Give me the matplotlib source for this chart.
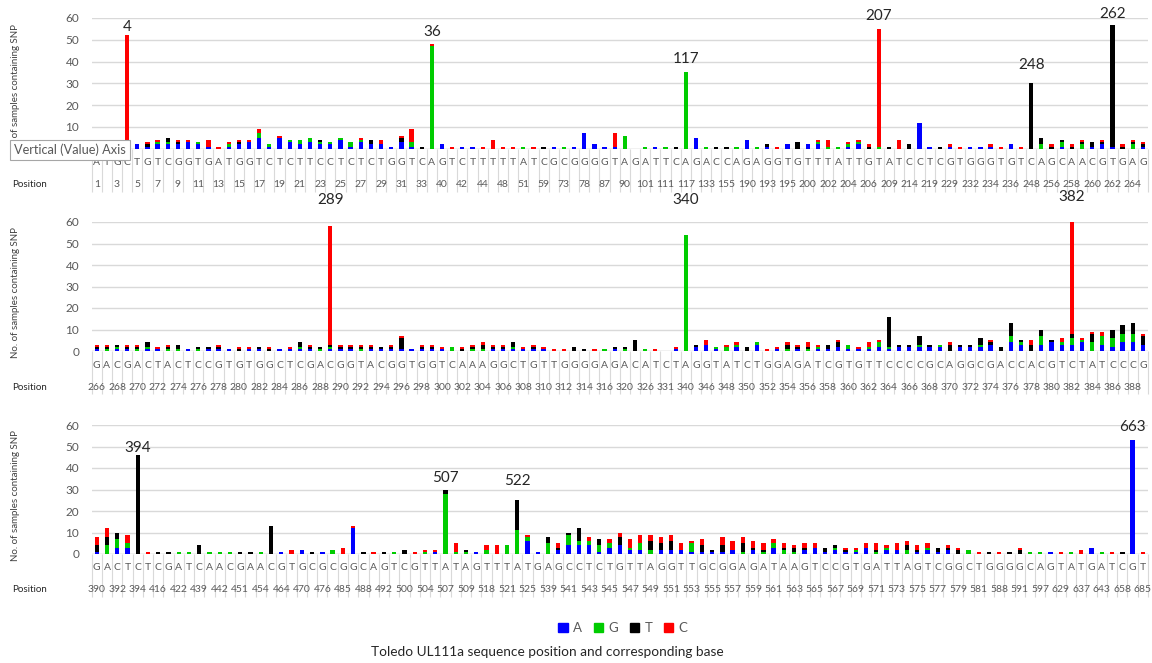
import numpy as np
import matplotlib.pyplot as plt
from matplotlib.patches import Patch

plt.rcParams['font.family'] = ['Lato', 'DejaVu Sans']

# ---- panel 1 ----
pos1 = [1, 2, 3, 4, 5, 6, 7, 8, 9, 10, 11, 12, 13, 14, 15, 16, 17, 18, 19, 20,
        21, 22, 23, 24, 25, 26, 27, 28, 29, 30, 31, 32, 33, 36, 40, 41, 42, 43, 44, 45,
        48, 49, 51, 52, 59, 60, 73, 74, 78, 79, 87, 88, 90, 91, 101, 102, 111, 112, 117, 118,
        133, 134, 155, 156, 190, 191, 193, 194, 195, 196, 200, 201, 202, 203, 204, 205, 206, 207, 209, 210,
        214, 215, 219, 220, 229, 230, 232, 233, 234, 235, 236, 237, 248, 249, 256, 257, 258, 259, 260, 261,
        262, 263, 264, 265]
bases1 = list("ATGCTGTCGGTGATGGTCTCTTCCTCTCT"
              "GGTCAGTCTTTTTATCGCGGGGTAGATTCAGACCAGAG"
              "GTGTTTATTGTATCCTCGTGGGTGTCAGCAACGTGAG")
a1 = [1, 1, 1, 0, 2, 1, 2, 2, 2, 3, 2, 1, 0, 1, 2, 3, 5, 1, 5, 3,
      2, 3, 2, 2, 4, 1, 3, 2, 2, 1, 3, 1, 0, 0, 2, 0, 1, 1, 0, 0,
      0, 0, 0, 0, 0, 1, 0, 1, 7, 2, 1, 1, 0, 0, 0, 1, 0, 0, 0, 5,
      0, 0, 0, 0, 4, 0, 1, 0, 2, 0, 2, 2, 0, 0, 1, 2, 0, 0, 0, 0,
      0, 12, 1, 0, 1, 0, 1, 1, 1, 0, 2, 0, 0, 0, 0, 1, 0, 0, 1, 2,
      1, 0, 0, 1]
g1 = [0, 0, 0, 0, 0, 0, 1, 1, 0, 0, 1, 0, 0, 1, 0, 0, 2, 1, 0, 1,
      2, 2, 1, 1, 1, 2, 1, 0, 0, 0, 0, 2, 0, 47, 0, 0, 0, 0, 0, 0,
      0, 0, 1, 0, 0, 0, 1, 0, 0, 0, 0, 0, 6, 0, 1, 0, 1, 0, 35, 0,
      1, 0, 0, 1, 0, 1, 0, 0, 0, 0, 0, 1, 1, 1, 1, 1, 0, 1, 0, 0,
      0, 0, 0, 0, 0, 0, 0, 0, 0, 0, 0, 0, 0, 2, 0, 2, 0, 2, 0, 0,
      0, 0, 2, 0]
t1 = [0, 0, 0, 0, 0, 1, 0, 2, 1, 0, 0, 0, 0, 0, 1, 0, 0, 0, 0, 0,
      0, 0, 1, 0, 0, 0, 0, 2, 0, 0, 2, 0, 1, 0, 0, 0, 0, 0, 0, 0,
      0, 0, 0, 0, 1, 0, 0, 0, 0, 0, 0, 0, 0, 0, 0, 0, 0, 1, 0, 0,
      0, 1, 1, 0, 0, 0, 1, 0, 0, 3, 0, 0, 0, 0, 0, 0, 1, 0, 1, 0,
      2, 0, 0, 1, 0, 0, 0, 0, 0, 0, 0, 0, 30, 3, 1, 1, 1, 1, 2, 1,
      56, 1, 1, 1]
c1 = [0, 0, 1, 52, 0, 1, 1, 0, 1, 1, 0, 3, 1, 1, 1, 1, 2, 0, 1, 0,
      0, 0, 0, 0, 0, 0, 1, 0, 2, 0, 1, 6, 0, 1, 0, 1, 0, 0, 1, 4,
      1, 1, 0, 1, 0, 0, 0, 0, 0, 0, 0, 6, 0, 0, 0, 0, 0, 0, 0, 0,
      0, 0, 0, 0, 0, 0, 0, 1, 0, 0, 0, 1, 3, 0, 1, 1, 1, 54, 0, 4,
      0, 0, 0, 0, 1, 1, 0, 0, 1, 1, 0, 1, 0, 0, 1, 0, 1, 1, 0, 1,
      0, 1, 1, 1]
marks1 = [4, 36, 117, 207, 248, 262]
mark_y1 = [56, 53.4, 41, 60.8, 38.2, 61.7]

# ---- panel 2 ----
pos2 = [266, 267, 268, 269, 270, 271, 272, 273, 274, 275, 276, 277, 278, 279, 280, 281, 282, 283, 284, 285,
        286, 287, 288, 289, 290, 291, 292, 293, 294, 295, 296, 297, 298, 299, 300, 301, 302, 303, 304, 305,
        306, 307, 308, 309, 310, 311, 312, 313, 314, 315, 316, 318, 320, 322, 326, 328, 331, 335, 340, 342,
        346, 347, 348, 349, 350, 351, 352, 353, 354, 355, 356, 357, 358, 359, 360, 361, 362, 363, 364, 365,
        366, 367, 368, 369, 370, 371, 372, 373, 374, 375, 376, 377, 378, 379, 380, 381, 382, 383, 384, 385,
        386, 387, 388, 389]
bases2 = list("GACGACTACTCCGTGTGGCTCGACGGTAC"
              "GGTGGTCAAAGGCTGTTGGGGAGACATCTAGGTATCTG"
              "GAGATCGTGTTCCCCGCAGGCGACCACGTCTATCCCG")
a2 = [1, 0, 1, 1, 0, 1, 1, 0, 0, 1, 0, 1, 1, 1, 0, 1, 1, 0, 1, 1,
      1, 1, 0, 1, 1, 1, 0, 1, 1, 1, 1, 1, 1, 1, 1, 0, 0, 0, 0, 1,
      1, 1, 1, 1, 1, 0, 0, 0, 0, 0, 0, 1, 0, 0, 0, 0, 0, 1, 0, 2,
      3, 1, 0, 2, 0, 3, 0, 1, 0, 1, 0, 1, 1, 2, 1, 1, 1, 2, 1, 2,
      2, 2, 2, 2, 0, 2, 2, 2, 3, 0, 4, 3, 0, 3, 4, 3, 3, 4, 0, 3,
      2, 4, 4, 3]
g2 = [0, 1, 1, 0, 1, 1, 0, 1, 1, 0, 1, 0, 0, 0, 0, 0, 0, 0, 0, 0,
      1, 0, 1, 1, 0, 0, 1, 0, 0, 0, 0, 0, 0, 0, 0, 2, 0, 1, 1, 0,
      0, 1, 0, 0, 0, 0, 0, 0, 0, 0, 1, 0, 1, 0, 1, 0, 0, 0, 54, 0,
      0, 1, 2, 1, 0, 1, 0, 0, 1, 0, 1, 1, 0, 0, 2, 0, 1, 2, 1, 0,
      0, 1, 0, 1, 0, 0, 0, 1, 0, 0, 3, 1, 0, 4, 0, 1, 3, 1, 4, 4,
      4, 4, 4, 0]
t2 = [1, 1, 1, 1, 1, 2, 0, 1, 2, 0, 1, 1, 1, 0, 1, 0, 1, 1, 0, 0,
      2, 1, 1, 1, 1, 1, 1, 1, 1, 1, 5, 0, 1, 1, 0, 0, 1, 1, 2, 1,
      1, 2, 0, 1, 0, 0, 0, 2, 1, 0, 0, 1, 1, 5, 0, 0, 0, 0, 0, 1,
      0, 0, 0, 0, 2, 0, 0, 0, 2, 1, 1, 0, 2, 2, 0, 0, 0, 0, 14, 1,
      1, 4, 1, 0, 3, 1, 1, 3, 1, 2, 6, 1, 3, 3, 1, 0, 2, 0, 4, 0,
      4, 4, 5, 4]
c2 = [1, 1, 0, 1, 1, 0, 1, 1, 0, 0, 0, 0, 1, 0, 1, 1, 0, 1, 0, 1,
      0, 1, 0, 55, 1, 1, 1, 1, 0, 1, 1, 0, 1, 1, 1, 0, 1, 1, 1, 1,
      1, 0, 1, 1, 1, 1, 1, 0, 0, 1, 0, 0, 0, 0, 0, 1, 0, 1, 0, 0,
      2, 0, 1, 1, 0, 0, 1, 1, 1, 1, 2, 1, 0, 1, 0, 1, 2, 1, 0, 0,
      0, 0, 0, 0, 1, 0, 0, 0, 1, 0, 0, 0, 2, 0, 0, 2, 52, 1, 1, 2,
      0, 0, 0, 1]
marks2 = [289, 340, 382]
mark_y2 = [70, 70, 71.6]

# ---- panel 3 ----
pos3 = [390, 391, 392, 393, 394, 410, 416, 420, 422, 430, 439, 440, 442, 445, 451, 452, 454, 460, 464, 466,
        470, 472, 476, 480, 485, 487, 488, 490, 492, 499, 500, 502, 504, 505, 507, 508, 509, 515, 518, 520,
        521, 522, 525, 530, 539, 540, 541, 542, 543, 544, 545, 546, 547, 548, 549, 550, 551, 552, 553, 554,
        555, 556, 557, 558, 559, 560, 561, 562, 563, 564, 565, 566, 567, 568, 569, 570, 571, 572, 573, 574,
        575, 576, 577, 578, 579, 580, 581, 585, 588, 590, 591, 595, 597, 610, 629, 630, 637, 640, 643, 650,
        658, 663, 685]
bases3 = list("GACTCTCGATCAACGAACGTGCGCGGCAG"
              "TCGTTATAGTTTATGAGCCTCTGTTAGGTTGCGGAGAT"
              "AAGTCCGTGATTAGTCGGCTGGGGCAGTATGATCGT")
a3 = [1, 0, 3, 3, 0, 0, 0, 0, 0, 0, 0, 0, 0, 0, 0, 0, 0, 0, 1, 0,
      2, 0, 1, 0, 0, 12, 0, 0, 0, 0, 0, 0, 0, 1, 0, 0, 0, 1, 0, 0,
      0, 0, 6, 1, 0, 2, 4, 4, 4, 1, 3, 4, 2, 2, 0, 2, 2, 2, 1, 1,
      1, 1, 2, 0, 2, 0, 3, 0, 0, 2, 3, 1, 2, 1, 1, 3, 0, 2, 2, 0,
      1, 2, 1, 2, 0, 0, 0, 0, 0, 0, 0, 0, 0, 1, 0, 0, 0, 3, 0, 0,
      0, 53, 0]
g3 = [0, 4, 4, 2, 0, 0, 0, 0, 1, 1, 0, 1, 1, 1, 0, 0, 1, 0, 0, 0,
      0, 0, 0, 2, 0, 0, 0, 0, 0, 1, 0, 0, 1, 0, 28, 1, 1, 0, 2, 0,
      4, 11, 2, 0, 5, 0, 5, 2, 2, 3, 2, 0, 1, 3, 2, 0, 0, 0, 4, 0,
      0, 0, 0, 1, 0, 1, 2, 2, 1, 0, 0, 0, 1, 0, 1, 0, 1, 1, 0, 2,
      0, 1, 0, 0, 0, 2, 0, 0, 0, 0, 0, 1, 1, 0, 0, 1, 0, 0, 1, 0,
      0, 0, 0]
t3 = [3, 4, 3, 0, 46, 0, 1, 1, 0, 0, 4, 0, 0, 0, 1, 1, 0, 13, 0, 0,
      0, 1, 0, 0, 0, 0, 1, 0, 1, 0, 2, 0, 0, 0, 2, 0, 1, 0, 0, 0,
      0, 14, 0, 0, 3, 1, 1, 6, 0, 3, 0, 4, 0, 0, 4, 3, 4, 0, 0, 3,
      1, 3, 0, 4, 1, 1, 0, 1, 2, 1, 0, 2, 1, 1, 0, 0, 1, 0, 0, 2,
      1, 0, 2, 1, 2, 0, 0, 1, 0, 1, 2, 0, 0, 0, 0, 0, 0, 0, 0, 0,
      1, 0, 0]
c3 = [4, 4, 0, 4, 0, 1, 0, 0, 0, 0, 0, 0, 0, 0, 0, 0, 0, 0, 0, 2,
      0, 0, 0, 0, 3, 1, 0, 1, 0, 0, 0, 1, 1, 1, 0, 4, 0, 0, 2, 4,
      0, 0, 1, 0, 0, 2, 0, 0, 2, 0, 2, 2, 4, 4, 3, 3, 3, 3, 1, 3,
      0, 4, 4, 3, 3, 3, 2, 2, 1, 2, 2, 0, 0, 1, 1, 2, 3, 1, 3, 2,
      2, 2, 0, 1, 1, 0, 1, 0, 1, 0, 1, 0, 0, 0, 1, 0, 2, 0, 0, 1,
      0, 0, 1]
marks3 = [394, 507, 522, 663]
mark_y3 = [49.3, 35.3, 34, 59]

series_names = ["A", "G", "T", "C"]
series_colors = ["#0000FF", "#00CC00", "#000000", "#FF0000"]

W, H = 1152, 663
fig = plt.figure(figsize=(W / 100, H / 100), dpi=100)

left_px, right_px = 91.6, 1148
zero_px = [148.7, 351, 554]   # pixel row of the 0 line for each panel
top_px = [18, 222, 425]       # pixel row of the 60 line


def draw_panel(zero, top, positions, bases, counts, marks, mark_y, hide_zero=False):
    ax = fig.add_axes([left_px / W, 1 - zero / H, (right_px - left_px) / W, (zero - top) / H])
    h = zero - top
    n = len(positions)
    x = np.arange(n)
    bottom = np.zeros(n)
    for vals, col in zip(counts, series_colors):
        vals = np.array(vals, dtype=float)
        ax.bar(x, vals, 0.42, bottom=bottom, color=col, zorder=3, linewidth=0)
        bottom += vals
    ax.set_xlim(-0.5, n - 0.5)
    ax.set_ylim(0, 60)
    ticks = list(range(0, 61, 10))
    ax.set_yticks(ticks)
    # the spreadsheet tooltip hides the 0 of the top panel
    ax.set_yticklabels(['' if (hide_zero and t == 0) else str(t) for t in ticks])
    ax.grid(axis='y', color='#d9d9d9', lw=1, zorder=0)
    for s in ax.spines.values():
        s.set_visible(False)
    ax.axhline(0, color='#d9d9d9', lw=1, zorder=1)
    ax.tick_params(axis='y', length=0, labelsize=8.5, labelcolor='#595959', pad=9)
    ax.set_xticks([])

    tr = ax.get_xaxis_transform()
    ax.vlines(np.arange(n + 1) - 0.5, -43 / h, 0, transform=tr, clip_on=False,
              colors='#d9d9d9', lw=0.8)
    for i in range(n):
        ax.text(i, -14 / h, bases[i], transform=tr, ha='center', va='center',
                fontsize=7.5, color='#595959')
        if i % 2 == 0:
            ax.text(i, -36 / h, str(positions[i]), transform=tr, ha='center', va='center',
                    fontsize=7.5, color='#595959')
    for m, my in zip(marks, mark_y):
        ax.text(positions.index(m), my, str(m), ha='center', va='center',
                fontsize=11, color='#262626', clip_on=False)
    fig.text(12 / W, 1 - (zero + 36) / H, 'Position', fontsize=7, color='#262626', va='center')
    ax.set_ylabel('No. of samples containing SNP', fontsize=7, color='#404040')
    ax.yaxis.set_label_coords((20 - left_px) / (right_px - left_px), 0.45)
    return ax


draw_panel(zero_px[0], top_px[0], pos1, bases1, [a1, g1, t1, c1], marks1, mark_y1, hide_zero=True)
draw_panel(zero_px[1], top_px[1], pos2, bases2, [a2, g2, t2, c2], marks2, mark_y2)
draw_panel(zero_px[2], top_px[2], pos3, bases3, [a3, g3, t3, c3], marks3, mark_y3)

# tooltip left over from the spreadsheet screenshot
fig.text(14 / W, 1 - 150 / H, 'Vertical (Value) Axis', fontsize=9.2, color='#595959',
         va='center', zorder=10,
         bbox=dict(boxstyle='square,pad=0.3', fc='white', ec='#a6a6a6', lw=0.8))

handles = [Patch(color=c) for c in series_colors]
fig.legend(handles, series_names, loc='center', bbox_to_anchor=(623 / W, 1 - 628 / H),
           ncol=4, frameon=False, fontsize=9.5, handlelength=0.7, handleheight=0.7,
           columnspacing=0.9, handletextpad=0.4, labelcolor='#595959')

fig.text(547 / W, 1 - 652 / H, 'Toledo UL111a sequence position and corresponding base',
         ha='center', va='center', fontsize=9.8, color='#262626')

fig.savefig('out.png', dpi=100)
